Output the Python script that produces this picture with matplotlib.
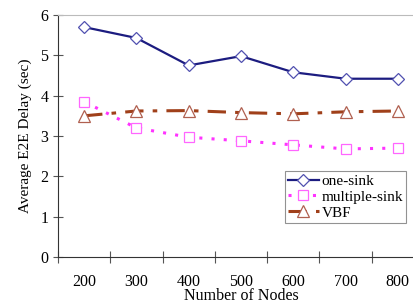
import matplotlib
matplotlib.use("Agg")
import matplotlib.pyplot as plt

categories = ["200", "300", "400", "500", "600", "700", "800"]
one_sink = [5.70, 5.43, 4.75, 4.98, 4.58, 4.42, 4.42]
multiple_sink = [3.85, 3.20, 2.97, 2.88, 2.78, 2.68, 2.70]
vbf = [3.50, 3.62, 3.63, 3.58, 3.55, 3.60, 3.62]

plt.rcParams['font.family'] = ['Liberation Serif', 'DejaVu Serif']

fig = plt.figure(figsize=(4.14, 3.04), dpi=100)
ax = fig.add_axes([58/414, 47/304, 366/414, 242/304])
x = list(range(len(categories)))

ax.plot(x, one_sink, color='#1c1c80', lw=1.6, marker='D', ms=6,
        mfc='white', mec='#5050b0', mew=0.9, label='one-sink')
ax.plot(x, multiple_sink, color='#ff33ff', lw=2.2, ls=(0, (1, 3)), marker='s', ms=7.5,
        mfc='white', mec='#ff66ff', mew=0.9, label='multiple-sink')
ax.plot(x, vbf, color='#a0401a', lw=2.2, ls=(0, (6, 3, 1.5, 3)), marker='^', ms=8.5,
        mfc='white', mec='#b06050', mew=0.9, label='VBF')

ax.set_xlim(-0.5, 6.5)
ax.set_ylim(0, 6)
ax.set_yticks(range(0, 7))
ax.set_xticks([i + 0.5 for i in range(-1, 7)])
ax.set_xticklabels([])
ax.set_xticks(x, minor=True)
ax.set_xticklabels(categories, minor=True)
ax.tick_params(axis='x', which='minor', length=0, pad=12, labelsize=11.5)
ax.tick_params(axis='x', which='major', direction='inout', length=8, width=0.8, color='#555555')
ax.tick_params(axis='y', direction='inout', length=7, width=0.8, labelsize=11.5, color='#555555')

ax.spines['right'].set_visible(False)
ax.spines['top'].set_color('#bbbbbb')
ax.spines['left'].set_color('#333333')
ax.spines['bottom'].set_color('#333333')

ax.set_xlabel('Number of Nodes', fontsize=11.5, labelpad=-1)
ax.set_ylabel('Average E2E Delay (sec)', fontsize=11, labelpad=6)

leg = ax.legend(loc='upper left', bbox_to_anchor=(227/366, 1 - 156/242), fontsize=11,
                frameon=True, fancybox=False, edgecolor='#777777', borderpad=0.2,
                labelspacing=0.1, handlelength=2.0, handletextpad=0.2, borderaxespad=0,
                handleheight=0.8)
leg.get_frame().set_linewidth(0.8)

fig.savefig('out.png', dpi=100)
